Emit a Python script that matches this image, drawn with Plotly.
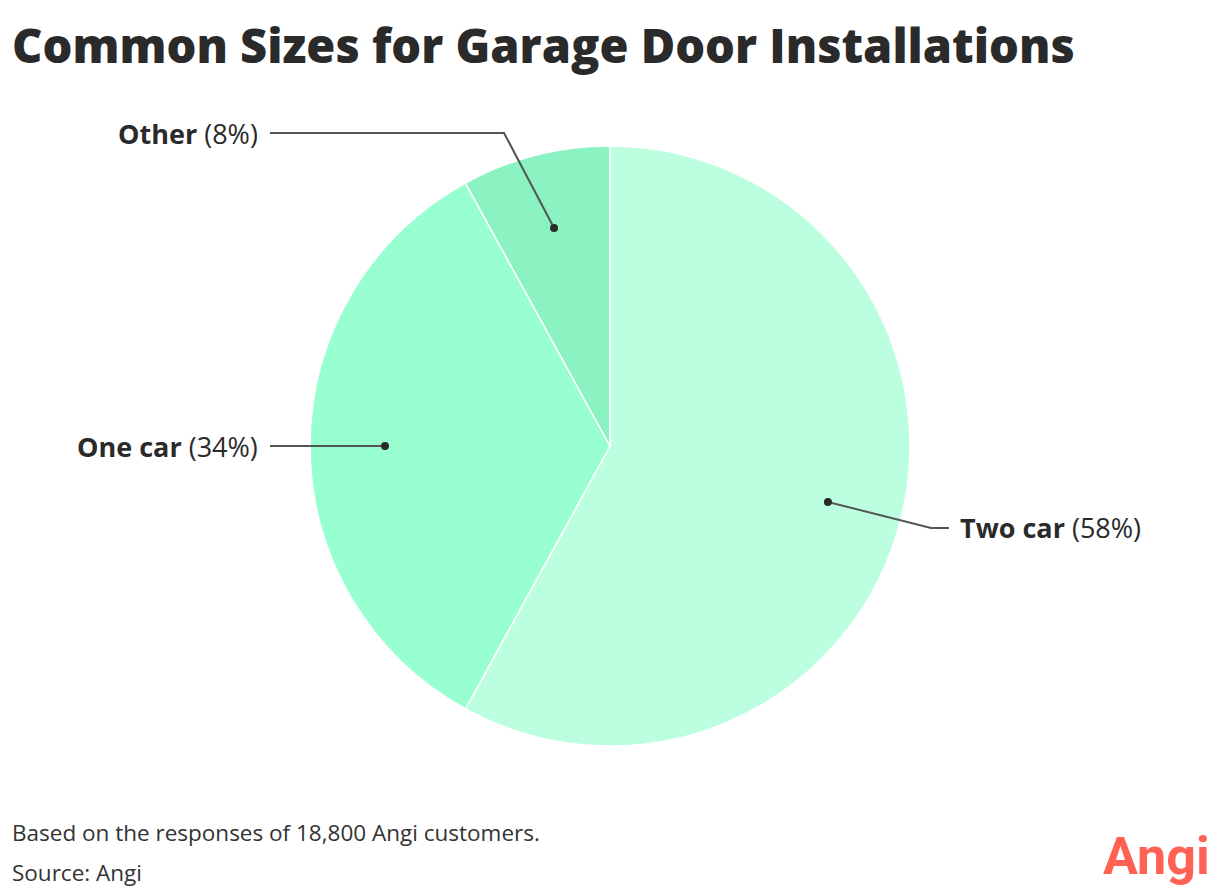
import math
import plotly.graph_objects as go

# Data
labels = ["Two car", "One car", "Other"]
values = [58, 34, 8]
colors = ["#BCFFE0", "#97FFD0", "#8AF3C1"]

title = "Common Sizes for Garage Door Installations"
note = "Based on the responses of 18,800 Angi customers."
source = "Source: Angi"

W, H = 1220, 896
OFF = 8  # page body margin
cx, cy, R = 610 - OFF, 446 - OFF, 300  # pie centre / radius in pixels

fig = go.Figure(
    go.Pie(
        labels=labels,
        values=values,
        sort=False,
        direction="clockwise",
        rotation=0,
        marker=dict(colors=colors, line=dict(color="white", width=1.5)),
        textinfo="none",
        hoverinfo="label+percent",
        domain=dict(
            x=[(cx - R) / W, (cx + R) / W],
            y=[1 - (cy + R) / H, 1 - (cy - R) / H],
        ),
        showlegend=False,
    )
)


def px(x):
    return x / W


def py(y):
    return 1 - y / H


# Leader lines + labels from slice mid angles
total = sum(values)
cum = 0
shapes = []
annotations = []
line_col = "#555555"
for lab, v in zip(labels, values):
    mid = (cum + v / 2) / total * 2 * math.pi
    cum += v
    dx = cx + 0.75 * R * math.sin(mid)
    dy = cy - 0.75 * R * math.cos(mid)
    pct = round(v / total * 100)
    txt = f"<b>{lab}</b> ({pct}%)"
    if math.sin(mid) > 0.5:
        # right side label
        ex, ey = dx + 103, dy + 26
        tx = ex + 18
        pts = [(dx, dy), (ex, ey), (tx, ey)]
        annotations.append(dict(x=px(tx + 9), y=py(ey), text=txt, xanchor="left"))
    elif math.cos(mid) > 0.5:
        # top label
        ex, ey = dx - 50, 133 - OFF
        tx = 270 - OFF
        pts = [(dx, dy), (ex, ey), (tx, ey)]
        annotations.append(dict(x=px(tx - 10), y=py(ey), text=txt, xanchor="right"))
    else:
        ey = dy
        tx = 270 - OFF
        pts = [(dx, dy), (tx, ey)]
        annotations.append(dict(x=px(tx - 10), y=py(ey), text=txt, xanchor="right"))
    path = "M " + " L ".join(f"{px(a)},{py(b)}" for a, b in pts)
    shapes.append(dict(type="path", path=path, xref="paper", yref="paper",
                       line=dict(color=line_col, width=2)))
    shapes.append(dict(type="circle", xref="paper", yref="paper",
                       x0=px(dx - 4), x1=px(dx + 4), y0=py(dy + 4), y1=py(dy - 4),
                       fillcolor="#2a2a2a", line=dict(width=0)))

for a in annotations:
    a.update(xref="paper", yref="paper", yanchor="middle", showarrow=False,
             font=dict(family="Open Sans", size=27, color="#2a2a2a"))

annotations += [
    dict(x=px(10 - OFF), y=py(45 - OFF), xref="paper", yref="paper",
         text=title, xanchor="left", yanchor="middle", showarrow=False,
         font=dict(family="Open Sans", size=47, weight=800, color="#2a2a2a")),
    dict(x=px(10 - OFF), y=py(832 - OFF), xref="paper", yref="paper", text=note,
         xanchor="left", yanchor="middle", showarrow=False,
         font=dict(family="Open Sans", size=22.5, color="#333333")),
    dict(x=px(10 - OFF), y=py(872 - OFF), xref="paper", yref="paper", text=source,
         xanchor="left", yanchor="middle", showarrow=False,
         font=dict(family="Open Sans", size=22.5, color="#333333")),
    dict(x=px(1212 - OFF), y=py(856 - OFF), xref="paper", yref="paper",
         text="<b>Angi</b>", xanchor="right", yanchor="middle", showarrow=False,
         font=dict(family="Roboto", size=52, color="#FF6153")),
]

fig.update_layout(
    width=W,
    height=H,
    margin=dict(l=0, r=0, t=0, b=0),
    paper_bgcolor="white",
    plot_bgcolor="white",
    shapes=shapes,
    annotations=annotations,
)

fig.write_html("out.html")
